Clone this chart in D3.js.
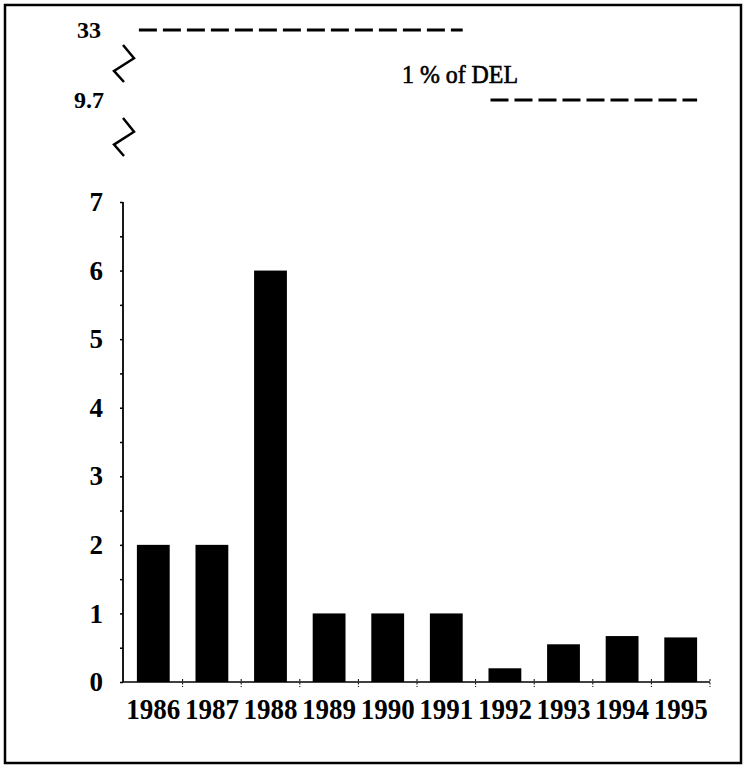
<!DOCTYPE html>
<html>
<head>
<meta charset="utf-8">
<script src="https://cdn.jsdelivr.net/npm/d3@7"></script>
<style>
  html, body { margin: 0; padding: 0; background: #fff; }
  svg { display: block; }
  svg text { font-family: "Liberation Serif", Tinos, "Times New Roman", Times, serif; }
</style>
</head>
<body>
<div id="chart"></div>
<script>
// ---- data ----
const categories = ["1986", "1987", "1988", "1989", "1990", "1991", "1992", "1993", "1994", "1995"];
const values = [2, 2, 6, 1, 1, 1, 0.2, 0.55, 0.67, 0.65];
const yTickValues = [0, 1, 2, 3, 4, 5, 6, 7];
const breakTickValues = [9.7, 33];
const breakTickLabels = ["9.7", "33"];
const delFrom = ["1986", "1992"];
const delTo = ["1991", "1995"];
const delValues = [33, 9.7];
const delLabel = "1 % of DEL";

// ---- layout ----
const W = 747, H = 768;
const svg = d3.select("#chart").append("svg").attr("width", W).attr("height", H);
svg.append("rect").attr("width", W).attr("height", H).attr("fill", "#fff");

// frame
svg.append("rect")
  .attr("x", 5).attr("y", 5).attr("width", 736).attr("height", 758)
  .attr("fill", "none").attr("stroke", "#000").attr("stroke-width", 2.5);

const x = d3.scaleBand().domain(categories).range([124, 710])
  .paddingInner(0.44).paddingOuter(0.22);
const xEdges = d3.scaleBand().domain(categories).range([124, 710]).padding(0);

// polylinear scale with broken section above 7
const y = d3.scaleLinear().domain([0, 7, 9.7, 33]).range([682, 202, 100, 30]);

// bars
svg.append("g").selectAll("rect").data(categories).join("rect")
  .attr("x", d => x(d))
  .attr("width", x.bandwidth())
  .attr("y", (d, i) => y(values[i]))
  .attr("height", (d, i) => y(0) - y(values[i]))
  .attr("fill", "#000");

// y axis (0..7) with minor ticks every 0.5
const yAxis = d3.axisLeft(y).tickValues(d3.range(0, 7.01, 0.5)).tickSize(3).tickFormat("");
const gy = svg.append("g").attr("transform", "translate(123,0)").call(yAxis);
gy.select(".domain").attr("d", `M0,${y(0)}V${y(7)}`).attr("stroke-width", 1.8);
gy.selectAll(".tick line").attr("stroke-width", 1.5).attr("x2", -3);

// y tick labels
svg.append("g").selectAll("text").data(yTickValues).join("text")
  .attr("x", 103).attr("y", d => y(d))
  .attr("dy", "0.34em")
  .attr("text-anchor", "end")
  .style("font-weight", "bold").style("font-size", "27px")
  .text(d => d);

svg.append("g").selectAll("text").data(breakTickValues).join("text")
  .attr("x", (d, i) => i === 0 ? 104 : 101).attr("y", d => y(d))
  .attr("dy", "0.34em")
  .attr("text-anchor", "end")
  .style("font-weight", "bold").style("font-size", "24px")
  .text((d, i) => breakTickLabels[i]);

// axis break zigzags
const zig = d3.line();
const zigs = [[y(33) + 15, y(9.7) - 18], [y(9.7) + 18, y(9.7) + 56]];
zigs.forEach(([a, b]) => {
  const h = b - a;
  svg.append("path")
    .attr("d", zig([[123, a], [134, a + h * 0.36], [114, a + h * 0.7], [124, b]]))
    .attr("fill", "none").attr("stroke", "#000").attr("stroke-width", 2.5);
});

// x axis
const xAxisG = svg.append("g").attr("transform", `translate(0,${y(0)})`);
xAxisG.append("line").attr("x1", 123).attr("x2", 710).attr("stroke", "#000").attr("stroke-width", 1.5);
xAxisG.selectAll("line.t").data(categories.slice(1).concat(["end"])).join("line")
  .attr("class", "t")
  .attr("x1", d => d === "end" ? 710 : xEdges(d))
  .attr("x2", d => d === "end" ? 710 : xEdges(d))
  .attr("y1", -3).attr("y2", 5)
  .attr("stroke", "#000").attr("stroke-width", 1).attr("stroke-dasharray", "2,1.5");

// x labels
svg.append("g").selectAll("text").data(categories).join("text")
  .attr("x", d => x(d) + x.bandwidth() / 2 - 54 / 2)
  .attr("y", 719)
  .attr("textLength", 54).attr("lengthAdjust", "spacingAndGlyphs")
  .style("font-weight", "bold").style("font-size", "30px")
  .text(d => d);

// 1% of DEL dashed lines
svg.append("g").selectAll("line").data(delValues).join("line")
  .attr("x1", (d, i) => x(delFrom[i]) + 2)
  .attr("x2", (d, i) => x(delTo[i]) + x.bandwidth())
  .attr("y1", d => y(d)).attr("y2", d => y(d))
  .attr("stroke", "#000").attr("stroke-width", 3)
  .attr("stroke-dasharray", "18,6");

svg.append("text")
  .attr("x", 402).attr("y", 83)
  .style("font-size", "25px")
  .attr("textLength", 116).attr("lengthAdjust", "spacingAndGlyphs")
  .attr("stroke", "#000").attr("stroke-width", 0.6)
  .text(delLabel);
</script>
</body>
</html>
